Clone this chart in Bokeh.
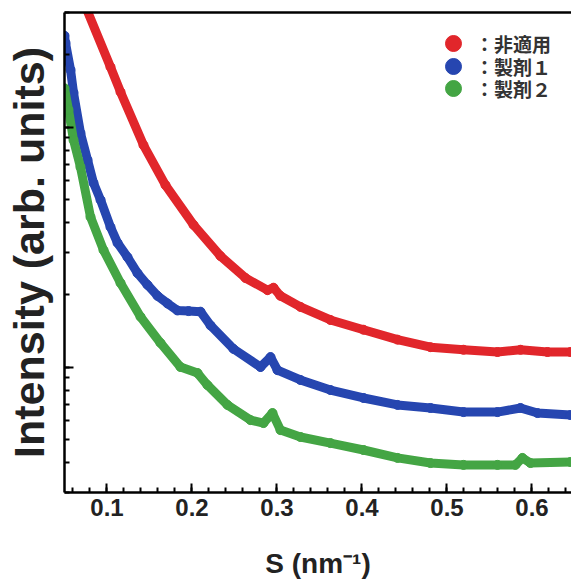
from bokeh.plotting import figure
from bokeh.models import (Range1d, LinearAxis, SingleIntervalTicker, Legend,
                          LegendItem, FixedTicker)
from bokeh.embed import file_html
from bokeh.resources import INLINE

# ---- data (S in nm^-1, intensity in arb. units) ----
s_ref = [0.076, 0.1041, 0.1159, 0.1429, 0.1688, 0.2018, 0.2335, 0.2629,
         0.2888, 0.2959, 0.3040, 0.3276, 0.3629, 0.4018, 0.4418, 0.4806, 0.5194,
         0.5594, 0.5865, 0.6182, 0.6453]
i_ref = [31.0, 17.8, 14.0, 8.41, 5.73, 3.91, 2.90, 2.35,
         2.09, 2.14, 1.98, 1.78, 1.57, 1.43, 1.30, 1.21, 1.18,
         1.155, 1.18, 1.155, 1.155]

s_f1 = [0.0500, 0.0512, 0.0571, 0.0606, 0.0688, 0.0771, 0.0841, 0.0924, 0.1041,
        0.1124, 0.1241, 0.1359, 0.1476, 0.1594, 0.1712, 0.1829, 0.1960, 0.2100,
        0.2218, 0.2488, 0.2806, 0.2924, 0.3006, 0.3276, 0.3629, 0.4018, 0.4418,
        0.4806, 0.5194, 0.5594, 0.5865, 0.6065, 0.6453]
i_f1 = [24.0, 22.4, 17.3, 13.9, 9.44, 7.29, 5.85, 4.97, 3.83,
        3.29, 2.87, 2.46, 2.20, 1.98, 1.84, 1.72, 1.71, 1.70,
        1.49, 1.19, 1.00, 1.10, 0.97, 0.883, 0.802, 0.743, 0.695,
        0.675, 0.649, 0.649, 0.675, 0.643, 0.631]

s_f2 = [0.0500, 0.0547, 0.0606, 0.0688, 0.0806, 0.0959, 0.1159, 0.1394, 0.1629,
        0.1865, 0.2065, 0.2182, 0.2418, 0.2688, 0.2841, 0.2947, 0.3041, 0.3276,
        0.3629, 0.4018, 0.4418, 0.4806, 0.5194, 0.5594, 0.5806, 0.5888, 0.5982,
        0.6453]
i_f2 = [14.5, 11.8, 8.83, 6.81, 4.22, 3.07, 2.24, 1.62, 1.26,
        1.00, 0.944, 0.841, 0.695, 0.601, 0.584, 0.643, 0.546, 0.511,
        0.482, 0.451, 0.418, 0.398, 0.391, 0.391, 0.391, 0.418, 0.398,
        0.402]

labels = ["：非適用", "：製剤１", "：製剤２"]
colors = ["#e1262b", "#2646b0", "#44a544"]
legend_rows = [429, 406, 384]   # legend row anchors (screen px above frame bottom)

p = figure(width=571, height=585, x_range=Range1d(0.05, 0.6465),
           y_range=Range1d(0.3, 30), y_axis_type="log",
           output_backend="svg", toolbar_location=None,
           min_border_left=64, min_border_right=0, min_border_top=12,
           min_border_bottom=93)
p.grid.visible = False
p.outline_line_color = None
p.background_fill_color = "white"

for s, i, c, lab, vy in zip([s_ref, s_f1, s_f2], [i_ref, i_f1, i_f2], colors,
                            labels, legend_rows):
    p.line(s, i, line_width=9, color=c, line_join="round", line_cap="round")
    r = p.scatter(s, i, size=9, color=c)
    lg = Legend(items=[LegendItem(label=lab, renderers=[r])], location=(369, vy),
                glyph_width=40, glyph_height=40, label_standoff=2, padding=0,
                margin=0, label_text_font="Noto Sans CJK JP",
                label_text_font_style="bold", label_text_font_size="19px",
                label_text_color="#333333", background_fill_alpha=0,
                border_line_color=None)
    p.add_layout(lg, "center")

# x axis
xa = p.xaxis[0]
xa.ticker = SingleIntervalTicker(interval=0.1, num_minor_ticks=5)
xa.axis_line_width = 2.5
xa.major_tick_in = 9
xa.major_tick_out = 0
xa.minor_tick_in = 5
xa.minor_tick_out = 0
xa.major_tick_line_width = 2
xa.minor_tick_line_width = 2
xa.major_label_text_font = "Liberation Sans"
xa.major_label_text_font_style = "bold"
xa.major_label_text_font_size = "24px"
xa.major_label_text_color = "#222222"
xa.major_label_standoff = 6
xa.axis_label = "S (nm⁻¹)"
xa.axis_label_text_font = "Liberation Sans"
xa.axis_label_text_font_style = "bold"
xa.axis_label_text_font_size = "28px"
xa.axis_label_text_color = "#222222"
xa.axis_label_standoff = 29

# y axis
ya = p.yaxis[0]
ya.axis_line_width = 2.5
ya.major_tick_in = 9
ya.major_tick_out = 0
ya.minor_tick_in = 5
ya.minor_tick_out = 0
ya.major_tick_line_width = 2
ya.minor_tick_line_width = 2
ya.major_label_text_font_size = "2px"
ya.major_label_text_alpha = 0
ya.major_label_standoff = 0
ya.axis_label = "Intensity (arb. units)"
ya.axis_label_text_font = "Liberation Sans"
ya.axis_label_text_font_style = "bold"
ya.axis_label_text_font_size = "43px"
ya.axis_label_text_color = "#222222"
ya.axis_label_standoff = 12

# top frame line
top = LinearAxis(ticker=FixedTicker(ticks=[0.3]), axis_line_width=2.5,
                 major_tick_line_color=None, minor_tick_line_color=None,
                 major_label_text_font_size="2px", major_label_text_alpha=0,
                 major_label_standoff=0)
p.add_layout(top, "above")

open("out.html", "w").write(file_html(p, INLINE))
